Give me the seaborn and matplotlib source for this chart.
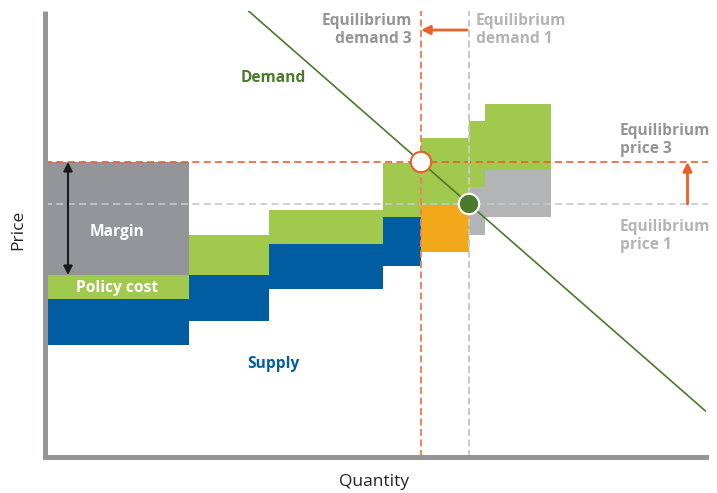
import matplotlib
matplotlib.use("Agg")
import matplotlib.pyplot as plt
import numpy as np
import pandas as pd
import seaborn as sns

sns.set_theme(style="white")
plt.rcParams["font.family"] = ["Open Sans", "DejaVu Sans"]

# Supply stack: quantity edges of each generator block and the price levels
block_edges = [0, 144.5, 224.5, 338.5, 376.5, 424.5, 440.5, 506.5]
base_bottom = [112, 136, 168, 191, 205, 222, 240]
base_top = [158, 182, 213, 240, 251, 270, 287]
policy_top = [182, 222, 247, 294, 319, 336, 353]
base_kind = ["supply", "supply", "supply", "supply", "marginal", "other", "other"]
margin_top = 295  # margin on the first block reaches the new equilibrium price

# Demand curve end points
demand_q = [204, 661]
demand_p = [446, 46]

# Equilibria
eq1_q, eq1_p = 424.5, 253
eq3_q, eq3_p = 376.5, 295

BLUE = "#005da1"
GREEN = "#a1c94d"
GREY = "#939598"
LIGHT_GREY = "#b3b4b6"
ORANGE = "#f2a81b"
RED = "#e8602a"
DGREEN = "#4c7a2b"
kind_colour = {"supply": BLUE, "marginal": ORANGE, "other": LIGHT_GREY}

W, H = 717, 493
fig = plt.figure(figsize=(W / 100, H / 100), dpi=100)
ax = fig.add_axes([44.5 / W, (H - 457) / H, 661 / W, 446 / H])
ax.set_xlim(0, 661)
ax.set_ylim(0, 446)

lefts = np.array(block_edges[:-1])
widths = np.diff(block_edges)
bb, bt, pt = map(np.array, (base_bottom, base_top, policy_top))

ax.bar(lefts, bt - bb, width=widths, bottom=bb, align="edge",
       color=[kind_colour[k] for k in base_kind], linewidth=0, zorder=1)
ax.bar(lefts, pt - bt, width=widths, bottom=bt, align="edge",
       color=GREEN, linewidth=0, zorder=1)
ax.bar(lefts[0], margin_top - pt[0], width=widths[0], bottom=pt[0], align="edge",
       color=GREY, linewidth=0, zorder=1)

# Equilibrium guide lines
xr = 663.5
ax.plot([0, xr], [eq3_p, eq3_p], color=RED, lw=1.2, ls=(0, (4.2, 2.6)),
        clip_on=False, zorder=2)
ax.plot([0, xr], [eq1_p, eq1_p], color="#c8c8c9", lw=1.2, ls=(0, (4.2, 2.6)),
        clip_on=False, zorder=2)
ax.plot([eq3_q, eq3_q], [0, 446], color="#ec845a", lw=1.4, ls=(0, (3.6, 1.8)),
        zorder=2)
ax.plot([eq1_q, eq1_q], [0, 446], color="#c8c8c9", lw=1.4, ls=(0, (3.6, 1.8)),
        zorder=2)

# Demand curve
sns.lineplot(x=demand_q, y=demand_p, color=DGREEN, lw=1.2, ax=ax, zorder=3)

# Equilibrium points
pts = pd.DataFrame({"q": [eq3_q, eq1_q], "p": [eq3_p, eq1_p], "k": ["3", "1"]})
sns.scatterplot(data=pts, x="q", y="p", hue="k", palette={"3": "white", "1": DGREEN},
                s=215, linewidth=1.5, edgecolor=[RED, "white"], legend=False,
                ax=ax, zorder=4, clip_on=False)

# Arrows
ax.annotate("", xy=(23.5, margin_top), xytext=(23.5, pt[0]),
            arrowprops=dict(arrowstyle="<|-|>", color="#1a1a1a", lw=1.5,
                            mutation_scale=13, shrinkA=0, shrinkB=0), zorder=5)
ax.annotate("", xy=(eq3_q, 427), xytext=(422.5, 427),
            arrowprops=dict(arrowstyle="-|>", color=RED, lw=2,
                            mutation_scale=13, shrinkA=0, shrinkB=0), zorder=5)
ax.annotate("", xy=(643, eq3_p), xytext=(643, eq1_p),
            arrowprops=dict(arrowstyle="-|>", color=RED, lw=2,
                            mutation_scale=13, shrinkA=0, shrinkB=0), zorder=5)

# Labels
bold = dict(fontsize=11.2, fontweight="bold", linespacing=1.15)
ax.text(367.5, 444, "Equilibrium\ndemand 3", ha="right", va="top", color=GREY, **bold)
ax.text(431.5, 444, "Equilibrium\ndemand 1", ha="left", va="top", color=LIGHT_GREY, **bold)
ax.text(575.5, 334, "Equilibrium\nprice 3", ha="left", va="top", color=GREY, **bold)
ax.text(575.5, 238, "Equilibrium\nprice 1", ha="left", va="top", color=LIGHT_GREY, **bold)
ax.text(228.5, 379, "Demand", ha="center", va="center", color=DGREEN, **bold)
ax.text(228.5, 93, "Supply", ha="center", va="center", color=BLUE, **bold)
ax.text(72.5, 225, "Margin", ha="center", va="center", color="white", **bold)
ax.text(72.5, 169, "Policy cost", ha="center", va="center", color="white", **bold)

ax.set_xticks([])
ax.set_yticks([])
ax.set_xlabel("")
ax.set_ylabel("")
for side in ("top", "right"):
    ax.spines[side].set_visible(False)
ax.spines["left"].set_color(GREY)
ax.spines["left"].set_linewidth(3.6)
ax.spines["left"].set_capstyle("butt")
ax.spines["bottom"].set_color(GREY)
ax.spines["bottom"].set_linewidth(3.6)
ax.spines["bottom"].set_capstyle("projecting")
for s in ax.spines.values():
    s.set_zorder(6)

fig.text(18 / W, 1 - 230 / H, "Price", rotation=90, ha="center", va="center",
         fontsize=12.5, color="#222222")
fig.text(374 / W, 1 - 482 / H, "Quantity", ha="center", va="center",
         fontsize=12.5, color="#222222")

fig.savefig("out.png", dpi=100)
